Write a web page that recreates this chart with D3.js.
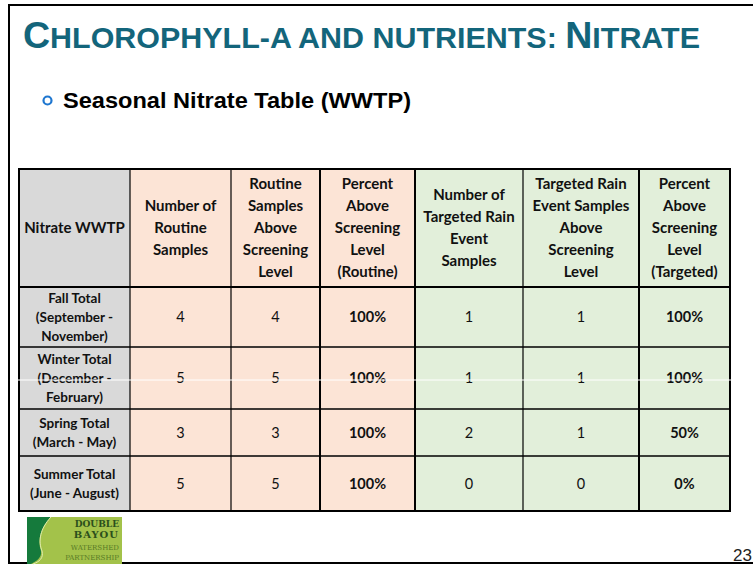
<!DOCTYPE html>
<html>
<head>
<meta charset="utf-8">
<script src="https://cdn.jsdelivr.net/npm/d3@7"></script>
<style>
  html, body { margin: 0; padding: 0; background: #fff; }
  svg { display: block; }
</style>
</head>
<body>
<svg id="chart"></svg>
<script>
// table data
const seasons = [
  ['Fall Total', '(September -', 'November)'],
  ['Winter Total', '(December -', 'February)'],
  ['Spring Total', '(March - May)'],
  ['Summer Total', '(June - August)']
];
const routineSamples = [4, 5, 3, 5];
const routineAbove = [4, 5, 3, 5];
const routinePercent = [100, 100, 100, 100];
const targetedSamples = [1, 1, 2, 0];
const targetedAbove = [1, 1, 1, 0];
const targetedPercent = [100, 100, 50, 0];

const headers = [
  ['Nitrate WWTP'],
  ['Number of', 'Routine', 'Samples'],
  ['Routine', 'Samples', 'Above', 'Screening', 'Level'],
  ['Percent', 'Above', 'Screening', 'Level', '(Routine)'],
  ['Number of', 'Targeted Rain', 'Event', 'Samples'],
  ['Targeted Rain', 'Event Samples', 'Above', 'Screening', 'Level'],
  ['Percent', 'Above', 'Screening', 'Level', '(Targeted)']
];

const width = 753, height = 565;
const svg = d3.select('#chart').attr('width', width).attr('height', height);

// slide frame
svg.append('path')
  .attr('d', 'M753,5 H9 V563 H753')
  .attr('fill', 'none').attr('stroke', '#000').attr('stroke-width', 2);

// title (small caps)
const title = svg.append('text')
  .attr('x', 23).attr('y', 48)
  .attr('fill', '#13657b')
  .attr('font-family', 'Liberation Sans Narrow, Arial Narrow, Liberation Sans, sans-serif')
  .attr('font-weight', 'bold')
  .attr('textLength', 677).attr('lengthAdjust', 'spacingAndGlyphs');
[['C', 37], ['HLOROPHYLL-', 30], ['A', 30], [' AND NUTRIENTS: ', 30], ['N', 37], ['ITRATE', 30]]
  .forEach(([t, s]) => title.append('tspan').attr('font-size', s).text(t));

// bullet + subtitle
svg.append('circle').attr('cx', 47.5).attr('cy', 100.5).attr('r', 4)
  .attr('fill', 'none').attr('stroke', '#1f77d0').attr('stroke-width', 2.2);
svg.append('text')
  .attr('x', 63).attr('y', 108)
  .attr('font-family', 'Liberation Sans Narrow, Arial Narrow, Liberation Sans, sans-serif')
  .attr('font-weight', 'bold').attr('font-size', 22)
  .attr('textLength', 348).attr('lengthAdjust', 'spacingAndGlyphs')
  .text('Seasonal Nitrate Table (WWTP)');

// table geometry
const colKeys = d3.range(8);
const x = d3.scaleOrdinal().domain(colKeys).range([19, 130, 231, 320, 415, 523, 639, 730]);
const rowKeys = d3.range(6);
const y = d3.scaleOrdinal().domain(rowKeys).range([169, 287, 347, 409, 456, 511]);
const fills = ['#d9d9d9', '#fce4d6', '#fce4d6', '#fce4d6', '#e2efda', '#e2efda', '#e2efda'];

const table = svg.append('g');
const font = 'Lato, Carlito, Calibri, sans-serif';

// cell backgrounds
for (let r = 0; r < 5; r++) {
  for (let c = 0; c < 7; c++) {
    table.append('rect')
      .attr('x', x(c)).attr('y', y(r))
      .attr('width', x(c + 1) - x(c)).attr('height', y(r + 1) - y(r))
      .attr('fill', fills[c]);
  }
}

// header text
headers.forEach((lines, c) => {
  const cx = (x(c) + x(c + 1)) / 2;
  const cy = (y(0) + y(1)) / 2;
  const lh = 22;
  lines.forEach((ln, i) => {
    table.append('text')
      .attr('x', cx).attr('y', cy + (i - (lines.length - 1) / 2) * lh)
      .attr('dy', '0.35em')
      .attr('text-anchor', 'middle')
      .attr('font-family', font).attr('font-weight', 'bold').attr('font-size', 15)
      .attr('fill', '#111')
      .text(ln);
  });
});

// body rows
const fmtPct = d => d + '%';
const columns = [null, routineSamples, routineAbove, routinePercent, targetedSamples, targetedAbove, targetedPercent];
seasons.forEach((label, r) => {
  const cy = (y(r + 1) + y(r + 2)) / 2;
  const lh = 19;
  label.forEach((ln, i) => {
    table.append('text')
      .attr('x', (x(0) + x(1)) / 2).attr('y', cy + (i - (label.length - 1) / 2) * lh)
      .attr('dy', '0.35em').attr('text-anchor', 'middle')
      .attr('font-family', font).attr('font-weight', 'bold').attr('font-size', 13.5)
      .attr('fill', '#111')
      .text(ln);
  });
  for (let c = 1; c < 7; c++) {
    const isPct = c === 3 || c === 6;
    table.append('text')
      .attr('x', (x(c) + x(c + 1)) / 2).attr('y', cy)
      .attr('dy', '0.35em').attr('text-anchor', 'middle')
      .attr('font-family', font)
      .attr('font-weight', isPct ? 'bold' : 'normal')
      .attr('font-size', 14.5)
      .attr('fill', '#111')
      .text(isPct ? fmtPct(columns[c][r]) : columns[c][r]);
  }
});

// grid lines
const thickCols = new Set([0, 3, 4, 6, 7]);
colKeys.forEach(c => {
  table.append('line')
    .attr('x1', x(c)).attr('x2', x(c))
    .attr('y1', y(0)).attr('y2', y(5))
    .attr('stroke', '#000').attr('stroke-width', thickCols.has(c) ? 2 : 1.2);
});
rowKeys.forEach(r => {
  table.append('line')
    .attr('x1', x(0) - 1).attr('x2', x(7) + 1)
    .attr('y1', y(r)).attr('y2', y(r))
    .attr('stroke', '#000').attr('stroke-width', (r === 0 || r === 1 || r === 5) ? 2 : 1.4);
});

// white scan artifact across winter row
svg.append('line').attr('x1', 11).attr('x2', 731).attr('y1', 380).attr('y2', 380)
  .attr('stroke', '#fff').attr('stroke-width', 1);

// logo
const logo = svg.append('g').attr('transform', 'translate(27,517)');
logo.append('rect').attr('width', 95).attr('height', 47).attr('fill', '#a3c24a');
logo.append('path')
  .attr('d', 'M0,0 H24 C14,10 10,22 14,34 C15,40 10,44 4,47 H0 Z')
  .attr('fill', '#157a3c');
logo.append('path')
  .attr('d', 'M24,0 C13,12 11,24 15,34 C17,41 12,45 6,47')
  .attr('fill', 'none').attr('stroke', '#e1edb0').attr('stroke-width', 1);
logo.append('text').attr('x', 92).attr('y', 10).attr('text-anchor', 'end')
  .attr('font-family', 'DejaVu Serif, serif').attr('font-weight', 'bold').attr('font-size', 9)
  .attr('fill', '#2b4f1c').text('DOUBLE');
logo.append('text').attr('x', 92).attr('y', 21).attr('text-anchor', 'end')
  .attr('font-family', 'DejaVu Serif, serif').attr('font-weight', 'bold').attr('font-size', 10)
  .attr('fill', '#2b4f1c').attr('letter-spacing', 1).text('BAYOU');
logo.append('text').attr('x', 92).attr('y', 33).attr('text-anchor', 'end')
  .attr('font-family', 'DejaVu Serif, serif').attr('font-size', 7)
  .attr('fill', '#587a26').text('WATERSHED');
logo.append('text').attr('x', 92).attr('y', 43).attr('text-anchor', 'end')
  .attr('font-family', 'DejaVu Serif, serif').attr('font-size', 7)
  .attr('fill', '#587a26').text('PARTNERSHIP');

// page number
svg.append('text').attr('x', 752).attr('y', 561).attr('text-anchor', 'end')
  .attr('font-family', 'Liberation Sans, Arial, sans-serif').attr('font-size', 17)
  .attr('fill', '#222').text('23');
</script>
</body>
</html>
